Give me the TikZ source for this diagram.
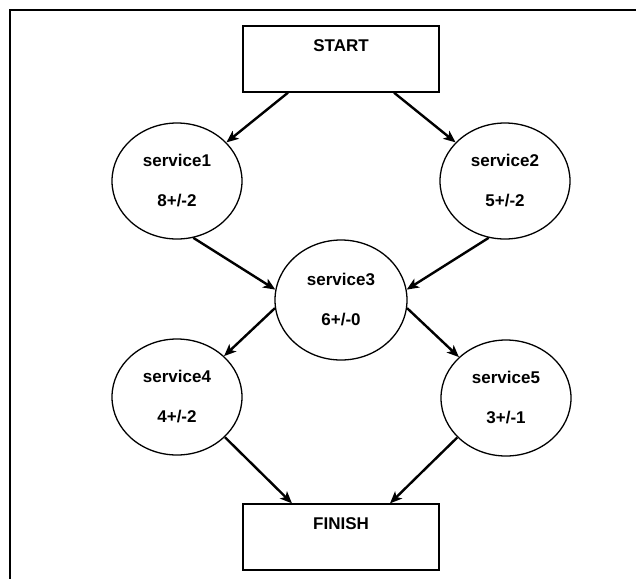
\documentclass[tikz,border=0pt]{standalone}
\usepackage{fontspec}
\setmainfont{Liberation Sans}
\usetikzlibrary{arrows.meta,shapes.geometric}

\begin{document}
\begin{tikzpicture}[x=1pt,y=-1pt,
  every node/.style={font={\fontsize{17}{40}\selectfont\bfseries}},
  termbox/.style={draw, line width=1.3pt, rectangle, inner sep=0pt,
    minimum width=196pt, minimum height=66pt, text height=12pt, text depth=28pt},
  svc/.style={draw, line width=1.3pt, ellipse, inner sep=0pt, align=center,
    minimum width=130pt, minimum height=116pt},
  flow/.style={line width=2.4pt, -{Stealth[length=12pt,width=10pt,inset=3pt]}}
]
\useasboundingbox (0,0) rectangle (636,579);

% page frame (top and left edges)
\draw[line width=2.4pt] (636,10) -- (10,10) -- (10,579);

% terminals
\node[termbox] (start)  at (341,59)  {START};
\node[termbox] (finish) at (341,537) {FINISH};

% services
\node[svc] (s1) at (177,181) {service1\\8+/-2};
\node[svc] (s2) at (505,181) {service2\\5+/-2};
\node[svc, minimum width=132pt, minimum height=120pt] (s3) at (341,300) {service3\\6+/-0};
\node[svc] (s4) at (177,397) {service4\\4+/-2};
\node[svc] (s5) at (506,398) {service5\\3+/-1};

% flow
\draw[flow] ([xshift=-53pt]start.south) -- (s1.38);
\draw[flow] ([xshift=53pt]start.south)  -- (s2.142);
\draw[flow] (s1.-74) -- (s3.171);
\draw[flow] (s2.254) -- (s3.9);
\draw[flow] (s3.187) -- (s4.41);
\draw[flow] (s3.-7)  -- (s5.139);
\draw[flow] (s4.-40) -- ([xshift=-49pt]finish.north);
\draw[flow] (s5.219) -- ([xshift=49pt]finish.north);
\end{tikzpicture}
\end{document}
